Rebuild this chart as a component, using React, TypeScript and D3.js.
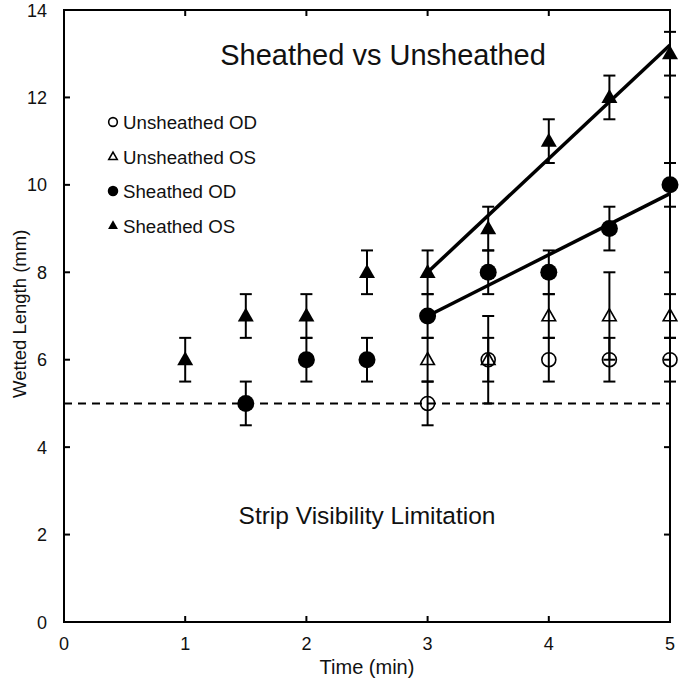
import React from "react";
import * as d3 from "d3";

// ---- data ----
const unsheathedODx = [3, 3.5, 4, 4.5, 5];
const unsheathedODy = [5, 6, 6, 6, 6];
const unsheathedODerr = [0.5, 0.5, 0.5, 0.5, 0.5];

const unsheathedOSx = [3, 3.5, 4, 4.5, 5];
const unsheathedOSy = [6, 6, 7, 7, 7];
const unsheathedOSerr = [0.5, 1, 0.5, 1, 0.5];

const sheathedODx = [1.5, 2, 2.5, 3, 3.5, 4, 4.5, 5];
const sheathedODy = [5, 6, 6, 7, 8, 8, 9, 10];
const sheathedODerr = [0.5, 0.5, 0.5, 0.5, 0.5, 0.5, 0.5, 0.5];

const sheathedOSx = [1, 1.5, 2, 2.5, 3, 3.5, 4, 4.5, 5];
const sheathedOSy = [6, 7, 7, 8, 8, 9, 11, 12, 13];
const sheathedOSerr = [0.5, 0.5, 0.5, 0.5, 0.5, 0.5, 0.5, 0.5, 0.5];

const xTicks = [0, 1, 2, 3, 4, 5];
const yTicks = [0, 2, 4, 6, 8, 10, 12, 14];
const visibilityLimit = 5;
const fitStart = 3;

const legendLabels = ["Unsheathed OD", "Unsheathed OS", "Sheathed OD", "Sheathed OS"];
const titleText = "Sheathed vs Unsheathed";
const noteText = "Strip Visibility Limitation";
const xLabel = "Time (min)";
const yLabel = "Wetted Length (mm)";

type Pt = { x: number; y: number; e: number };
const zip = (xs: number[], ys: number[], es: number[]): Pt[] =>
  xs.map((x, i) => ({ x, y: ys[i], e: es[i] }));

function linFit(pts: Pt[]) {
  const p = pts.filter((d) => d.x >= fitStart);
  const mx = d3.mean(p, (d) => d.x) as number;
  const my = d3.mean(p, (d) => d.y) as number;
  const sxy = d3.sum(p, (d) => (d.x - mx) * (d.y - my));
  const sxx = d3.sum(p, (d) => (d.x - mx) ** 2);
  const b = sxy / sxx;
  const a = my - b * mx;
  const x0 = d3.min(p, (d) => d.x) as number;
  const x1 = d3.max(p, (d) => d.x) as number;
  return [
    [x0, a + b * x0],
    [x1, a + b * x1],
  ] as [number, number][];
}

export default function App() {
  const W = 679;
  const H = 686;
  const x = d3.scaleLinear().domain([0, 5]).range([64, 670]);
  const y = d3.scaleLinear().domain([0, 14]).range([622, 10]);
  const font = "Liberation Sans, Arial, sans-serif";

  const series = [
    { pts: zip(unsheathedODx, unsheathedODy, unsheathedODerr), shape: "circle", filled: false },
    { pts: zip(unsheathedOSx, unsheathedOSy, unsheathedOSerr), shape: "triangle", filled: false },
    { pts: zip(sheathedODx, sheathedODy, sheathedODerr), shape: "circle", filled: true },
    { pts: zip(sheathedOSx, sheathedOSy, sheathedOSerr), shape: "triangle", filled: true },
  ];

  const line = d3
    .line<[number, number]>()
    .x((d) => x(d[0]))
    .y((d) => y(d[1]));

  const marker = (shape: string, filled: boolean, cx: number, cy: number, s: number, key: any) => {
    if (shape === "circle") {
      const r = filled ? 8.5 * s : 7 * s;
      return (
        <circle
          key={key}
          cx={cx}
          cy={cy}
          r={r}
          fill={filled ? "#000" : "none"}
          stroke="#000"
          strokeWidth={filled ? 0 : 1.6}
        />
      );
    }
    const w = (filled ? 8 : 6.8) * s;
    const h = (filled ? 14 : 12) * s;
    const d = `M${cx},${cy - h * 0.6}L${cx + w},${cy + h * 0.4}L${cx - w},${cy + h * 0.4}Z`;
    return (
      <path
        key={key}
        d={d}
        fill={filled ? "#000" : "none"}
        stroke="#000"
        strokeWidth={filled ? 0 : 1.6}
        strokeLinejoin="miter"
      />
    );
  };

  const fits = [linFit(series[2].pts), linFit(series[3].pts)];

  return (
    <svg
      width={W}
      height={H}
      style={{ position: "absolute", left: 0, top: 0, background: "#fff" }}
      fontFamily={font}
    >
      <rect x={0} y={0} width={W} height={H} fill="#fff" />
      {/* dashed visibility line */}
      <line
        x1={x(0)}
        x2={x(5)}
        y1={y(visibilityLimit)}
        y2={y(visibilityLimit)}
        stroke="#000"
        strokeWidth={2}
        strokeDasharray="8,6"
      />
      {/* frame */}
      <rect x={x(0)} y={y(14)} width={x(5) - x(0)} height={y(0) - y(14)} fill="none" stroke="#000" strokeWidth={2} />
      {/* ticks */}
      {xTicks.slice(1, -1).map((t) => (
        <g key={"xt" + t}>
          <line x1={x(t)} x2={x(t)} y1={y(0)} y2={y(0) - 6} stroke="#000" strokeWidth={2} />
          <line x1={x(t)} x2={x(t)} y1={y(14)} y2={y(14) + 6} stroke="#000" strokeWidth={2} />
        </g>
      ))}
      {yTicks.slice(1, -1).map((t) => (
        <g key={"yt" + t}>
          <line x1={x(0)} x2={x(0) + 6} y1={y(t)} y2={y(t)} stroke="#000" strokeWidth={2} />
          <line x1={x(5)} x2={x(5) - 6} y1={y(t)} y2={y(t)} stroke="#000" strokeWidth={2} />
        </g>
      ))}
      {/* tick labels */}
      {xTicks.map((t) => (
        <text key={"xl" + t} x={x(t)} y={650} textAnchor="middle" fontSize={18} fill="#111">
          {t}
        </text>
      ))}
      {yTicks.map((t) => (
        <text key={"yl" + t} x={47} y={y(t) + 6.5} textAnchor="end" fontSize={18} fill="#111">
          {t}
        </text>
      ))}
      {/* axis titles */}
      <text x={367} y={674} textAnchor="middle" fontSize={20} fill="#111">
        {xLabel}
      </text>
      <text
        transform={`translate(26,${y(7.05)}) rotate(-90)`}
        textAnchor="middle"
        fontSize={18.5}
        fill="#111"
      >
        {yLabel}
      </text>
      {/* regression lines */}
      {fits.map((f, i) => (
        <path key={"fit" + i} d={line(f) as string} fill="none" stroke="#000" strokeWidth={3.5} />
      ))}
      {/* error bars */}
      {series.map((s, si) =>
        s.pts.map((p, i) => (
          <g key={`e${si}-${i}`} stroke="#000" strokeWidth={2}>
            <line x1={x(p.x)} x2={x(p.x)} y1={y(p.y - p.e)} y2={y(p.y + p.e)} />
            <line x1={x(p.x) - 6} x2={x(p.x) + 6} y1={y(p.y - p.e)} y2={y(p.y - p.e)} />
            <line x1={x(p.x) - 6} x2={x(p.x) + 6} y1={y(p.y + p.e)} y2={y(p.y + p.e)} />
          </g>
        ))
      )}
      {/* markers */}
      {series.map((s, si) => s.pts.map((p, i) => marker(s.shape, s.filled, x(p.x), y(p.y), 1, `m${si}-${i}`)))}
      {/* title and note */}
      <text x={383} y={65} textAnchor="middle" fontSize={29} fill="#111">
        {titleText}
      </text>
      <text x={367} y={524} textAnchor="middle" fontSize={24.5} fill="#111">
        {noteText}
      </text>
      {/* legend */}
      {legendLabels.map((lab, i) => {
        const ly = 122 + i * 34.5;
        const s = series[i];
        return (
          <g key={"lg" + i}>
            {marker(s.shape, s.filled, 113, ly, 0.62, "lm" + i)}
            <text x={123} y={ly + 7} fontSize={18.7} fill="#111">
              {lab}
            </text>
          </g>
        );
      })}
    </svg>
  );
}
